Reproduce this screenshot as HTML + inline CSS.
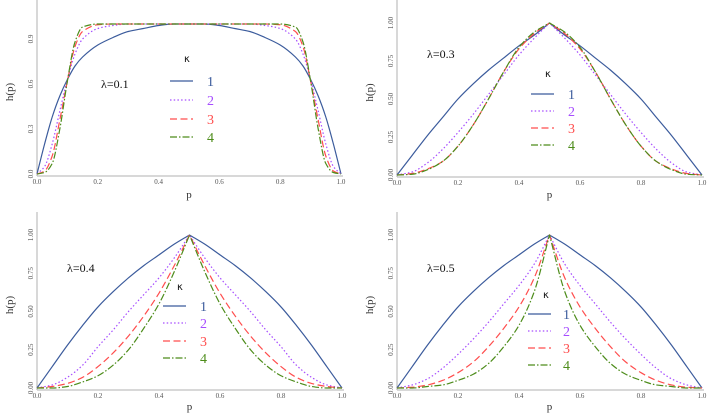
<!DOCTYPE html>
<html><head><meta charset="utf-8"><style>
html,body{margin:0;padding:0;background:#fff;}
svg{display:block;font-family:"Liberation Serif",serif;}
</style></head><body>
<svg id="chart" width="708" height="415" viewBox="0 0 708 415" xmlns="http://www.w3.org/2000/svg"></svg>
<script>
const kappaLabels = ["1","2","3","4"];
const xTickValues = [0,0.2,0.4,0.6,0.8,1.0];
const xTickLabels = ["0.0","0.2","0.4","0.6","0.8","1.0"];
const yTicks1 = [0,0.3,0.6,0.9];
const yTickLabels1 = ["0.0","0.3","0.6","0.9"];
const yTicks2 = [0,0.25,0.5,0.75,1.0];
const yTickLabels2 = ["0.00","0.25","0.50","0.75","1.00"];

const pGridA = [0,0.025,0.05,0.075,0.1,0.125,0.15,0.2,0.25,0.3,0.35,0.4,0.45,0.5,0.55,0.6,0.65,0.7,0.75,0.8,0.85,0.875,0.9,0.925,0.95,0.975,1];
const l01k1 = [0,0.2,0.38,0.52,0.63,0.72,0.78,0.86,0.91,0.95,0.97,0.99,1.0,1.0,1.0,0.99,0.97,0.95,0.91,0.86,0.78,0.72,0.63,0.52,0.38,0.2,0];
const l01k2 = [0,0.05,0.2,0.42,0.63,0.8,0.9,0.97,0.99,1,1,1,1,1,1,1,1,1,0.99,0.97,0.9,0.8,0.63,0.42,0.2,0.05,0];
const l01k3 = [0,0.02,0.12,0.36,0.62,0.85,0.95,0.995,1,1,1,1,1,1,1,1,1,1,1,0.995,0.95,0.85,0.62,0.36,0.12,0.02,0];
const l01k4 = [0,0.01,0.07,0.3,0.62,0.88,0.98,1,1,1,1,1,1,1,1,1,1,1,1,1,0.98,0.88,0.62,0.3,0.07,0.01,0];

const pGrid = [0,0.05,0.1,0.15,0.2,0.25,0.3,0.35,0.4,0.45,0.5,0.55,0.6,0.65,0.7,0.75,0.8,0.85,0.9,0.95,1];
const l03k1 = [0,0.13,0.26,0.38,0.5,0.6,0.69,0.77,0.85,0.92,1.0,0.92,0.85,0.77,0.69,0.6,0.5,0.38,0.26,0.13,0];
const l03k2 = [0,0.02,0.08,0.17,0.28,0.4,0.53,0.66,0.79,0.9,1.0,0.9,0.79,0.66,0.53,0.4,0.28,0.17,0.08,0.02,0];
const l03k3 = [0,0.01,0.04,0.09,0.19,0.33,0.5,0.68,0.83,0.93,1.0,0.93,0.83,0.68,0.5,0.33,0.19,0.09,0.04,0.01,0];
const l03k4 = [0,0.005,0.035,0.09,0.19,0.33,0.5,0.68,0.84,0.94,1.0,0.94,0.84,0.68,0.5,0.33,0.19,0.09,0.035,0.005,0];

const l04k1 = [0,0.14,0.28,0.41,0.53,0.63,0.72,0.8,0.87,0.94,1.0,0.94,0.87,0.8,0.72,0.63,0.53,0.41,0.28,0.14,0];
const l04k2 = [0,0.02,0.07,0.15,0.27,0.38,0.5,0.61,0.72,0.85,1.0,0.85,0.72,0.61,0.5,0.38,0.27,0.15,0.07,0.02,0];
const l04k3 = [0,0.01,0.03,0.07,0.14,0.23,0.34,0.47,0.62,0.8,1.0,0.8,0.62,0.47,0.34,0.23,0.14,0.07,0.03,0.01,0];
const l04k4 = [0,0,0.01,0.04,0.08,0.15,0.25,0.39,0.55,0.76,1.0,0.76,0.55,0.39,0.25,0.15,0.08,0.04,0.01,0,0];

const l05k1 = [0,0.14,0.28,0.41,0.53,0.63,0.72,0.8,0.87,0.94,1.0,0.94,0.87,0.8,0.72,0.63,0.53,0.41,0.28,0.14,0];
const l05k2 = [0,0.02,0.06,0.13,0.22,0.32,0.43,0.55,0.67,0.81,1.0,0.81,0.67,0.55,0.43,0.32,0.22,0.13,0.06,0.02,0];
const l05k3 = [0,0.005,0.02,0.05,0.1,0.17,0.27,0.39,0.53,0.72,1.0,0.72,0.53,0.39,0.27,0.17,0.1,0.05,0.02,0.005,0];
const l05k4 = [0,0,0.01,0.02,0.05,0.09,0.16,0.27,0.41,0.63,1.0,0.63,0.41,0.27,0.16,0.09,0.05,0.02,0.01,0,0];

const colors = ["#3b5b9c","#a64dff","#ff4d4d","#4d8c1a"];
const dashes = ["", "1.5,2.2", "7,3.5", "7,2,1.5,2"];
const NS = "http://www.w3.org/2000/svg";
const svg = document.getElementById('chart');

function mk(tag, attrs, parent){
  const e = document.createElementNS(NS, tag);
  for (const k in attrs) e.setAttribute(k, attrs[k]);
  (parent||svg).appendChild(e);
  return e;
}

// smooth path through pixel points, keeping kinks at extrema
function smoothPath(pts){
  const n = pts.length;
  const sec = [];
  for (let i=0;i<n-1;i++) sec.push((pts[i+1][1]-pts[i][1])/(pts[i+1][0]-pts[i][0]));
  const mIn = [], mOut = [];
  for (let i=0;i<n;i++){
    const dL = i>0 ? sec[i-1] : sec[0];
    const dR = i<n-1 ? sec[i] : sec[n-2];
    if (dL*dR > 0){
      const m = 2*dL*dR/(dL+dR);
      mIn.push(m); mOut.push(m);
    } else if (dL===0 || dR===0){
      mIn.push(0); mOut.push(0);
    } else {
      mIn.push(dL); mOut.push(dR);
    }
  }
  let d = 'M' + pts[0][0].toFixed(2) + ',' + pts[0][1].toFixed(2);
  for (let i=0;i<n-1;i++){
    const h = pts[i+1][0]-pts[i][0];
    const c1x = pts[i][0]+h/3, c1y = pts[i][1]+mOut[i]*h/3;
    const c2x = pts[i+1][0]-h/3, c2y = pts[i+1][1]-mIn[i+1]*h/3;
    d += ' C' + c1x.toFixed(2)+','+c1y.toFixed(2)+' '+c2x.toFixed(2)+','+c2y.toFixed(2)+' '+pts[i+1][0].toFixed(2)+','+pts[i+1][1].toFixed(2);
  }
  return d;
}

const panels = [
  {id:"lambda-0-1", lam:"λ=0.1", x0:37, x1:341, yb:174, yt:24, top:0, ymax:1.0, ticks:yTicks1, tl:yTickLabels1, px:pGridA, s:[l01k1,l01k2,l01k3,l01k4], lx:101, ly:88, kx:187, ky:62, legX:170, labX:207, rows:[81,100,119,137], xt:198},
  {id:"lambda-0-3", lam:"λ=0.3", x0:397, x1:702, yb:175, yt:23, top:0, ymax:1.0, ticks:yTicks2, tl:yTickLabels2, px:pGrid, s:[l03k1,l03k2,l03k3,l03k4], lx:427, ly:58, kx:548, ky:77, legX:531, labX:568, rows:[94,111,128,145], xt:198},
  {id:"lambda-0-4", lam:"λ=0.4", x0:37, x1:342, yb:388, yt:235, top:212, ymax:1.0, ticks:yTicks2, tl:yTickLabels2, px:pGrid, s:[l04k1,l04k2,l04k3,l04k4], lx:67, ly:272, kx:180, ky:290, legX:163, labX:200, rows:[306,323,341,358], xt:410},
  {id:"lambda-0-5", lam:"λ=0.5", x0:397, x1:702, yb:388, yt:235, top:212, ymax:1.0, ticks:yTicks2, tl:yTickLabels2, px:pGrid, s:[l05k1,l05k2,l05k3,l05k4], lx:427, ly:272, kx:546, ky:298, legX:528, labX:563, rows:[314,331,348,365], xt:410}
];

panels.forEach(P => {
  const g = mk('g', {});
  
  
  const xs = v => P.x0 + v*(P.x1-P.x0);
  const ys = v => P.yb - v*(P.yb-P.yt)/P.ymax;
  const axisY = P.yb + 2;
  const ya = mk('line', {x1:P.x0, x2:P.x0, y1:P.top, y2:axisY, stroke:'#b0b0b0', 'stroke-width':1}, g);
  
  
  const xa = mk('line', {x1:P.x0, x2:P.x1+2, y1:axisY, y2:axisY, stroke:'#b0b0b0', 'stroke-width':1}, g);
  
  
  xTickValues.forEach((v,i) => {
    const t = mk('text', {x:xs(v), y:axisY+8, 'font-size':7, fill:'#555', 'text-anchor':'middle'}, g);
    t.textContent = xTickLabels[i];
    
    
  });
  P.ticks.forEach((v,i) => {
    const y = ys(v);
    const t = mk('text', {x:0, y:0, 'font-size':7, fill:'#555', 'text-anchor':'middle', transform:`translate(${P.x0-4},${y}) rotate(-90)`}, g);
    t.textContent = P.tl[i];
    
    
  });
  const yt = mk('text', {x:0, y:0, 'font-size':11, fill:'#333', 'text-anchor':'middle', transform:`translate(${P.x0-24},${(P.yb+P.top)/2+5}) rotate(-90)`}, g);
  yt.textContent = 'h(p)';
  
  
  const xt = mk('text', {x:(P.x0+P.x1)/2, y:P.xt, 'font-size':11, fill:'#333', 'text-anchor':'middle'}, g);
  xt.textContent = 'p';
  
  
  P.s.forEach((arr,k) => {
    const pts = arr.map((v,i) => [xs(P.px[i]), ys(v)]);
    const path = mk('path', {d:smoothPath(pts), fill:'none', stroke:colors[k], 'stroke-width':1.2, 'stroke-dasharray':dashes[k]||'none', 'stroke-linejoin':'round'}, g);
    
    
  });
  const lt = mk('text', {x:P.lx, y:P.ly, 'font-size':12, fill:'#111'}, g);
  lt.textContent = P.lam;
  
  
  const lg = mk('g', {}, g);
  
  
  const kt = mk('text', {x:P.kx, y:P.ky, 'font-size':10, fill:'#111', 'font-family':'DejaVu Sans, sans-serif', 'text-anchor':'middle'}, lg);
  kt.textContent = 'κ';
  
  
  kappaLabels.forEach((lab,k) => {
    const y = P.rows[k];
    const ln = mk('line', {x1:P.legX, x2:P.legX+23, y1:y, y2:y, stroke:colors[k], 'stroke-width':1.3, 'stroke-dasharray':dashes[k]||'none'}, lg);
    
    
    const tx = mk('text', {x:P.labX, y:y+5, 'font-size':14, fill:colors[k]}, lg);
    tx.textContent = lab;
    
    
  });
});
</script>
</body></html>
